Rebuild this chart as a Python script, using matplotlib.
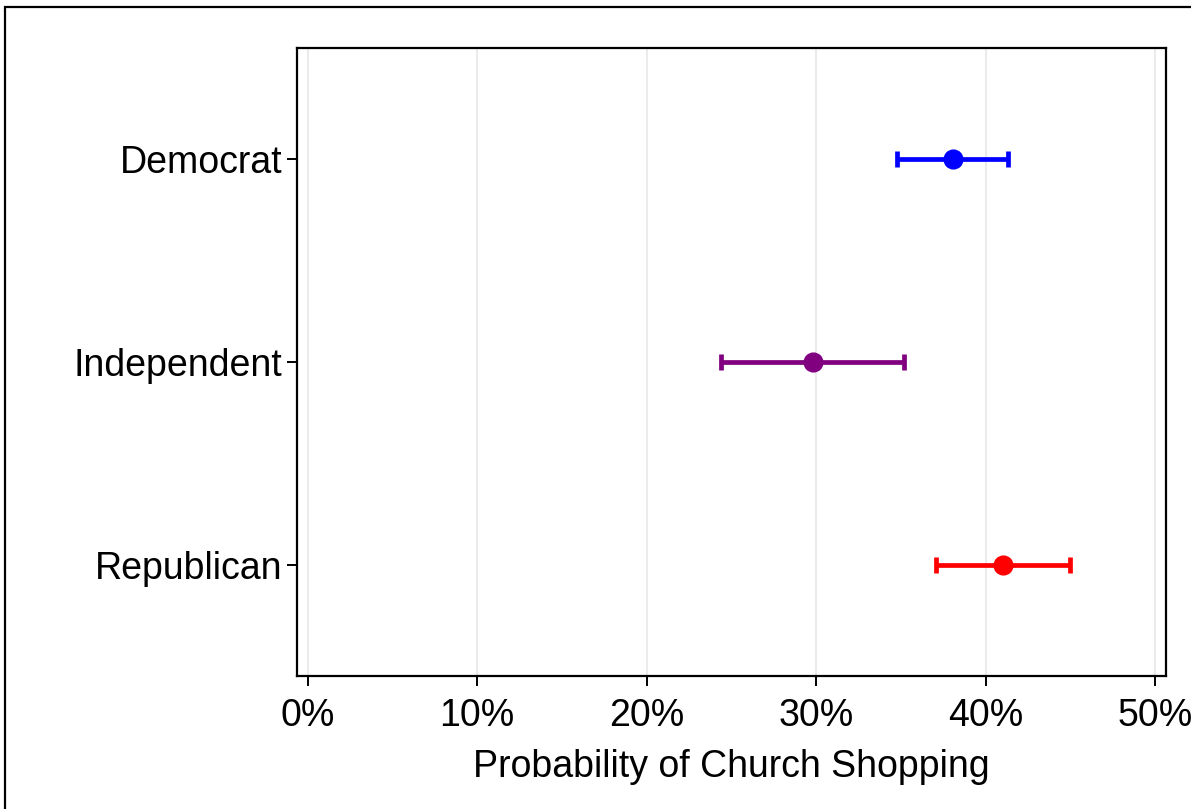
import numpy as np
import matplotlib
matplotlib.use("Agg")
import matplotlib.pyplot as plt
from matplotlib.patches import Rectangle
from matplotlib.ticker import PercentFormatter

# Predicted probability with confidence bounds, by party
parties = ["Democrat", "Independent", "Republican"]
estimate = [0.3806, 0.2984, 0.4104]
lower = [0.348, 0.244, 0.371]
upper = [0.4134, 0.3519, 0.4498]
colors = ["#0000ff", "#800080", "#ff0000"]

plt.rcParams["font.family"] = ["Liberation Sans", "DejaVu Sans"]

fig = plt.figure(figsize=(11.91, 8.09), dpi=100)
ax = fig.add_axes([0.2494, 0.1644, 0.9790 - 0.2494, 0.9407 - 0.1644])

# outer frame of the graph region (runs off the right and bottom edge)
fig.patches.append(Rectangle((5 / 1191, -0.2), 1.3, 1.2 - 9 / 809 + 0.002,
                             transform=fig.transFigure, fill=False,
                             edgecolor="black", linewidth=1.6))

ypos = np.arange(len(parties))[::-1] + 1
for y, est, lo, hi, c in zip(ypos, estimate, lower, upper, colors):
    ax.errorbar(est, y, xerr=[[est - lo], [hi - est]], fmt="o", color=c,
                ecolor=c, elinewidth=3.4, capsize=5.5, capthick=3.4,
                markersize=13.5)

ax.set_yticks(ypos)
ax.set_yticklabels(parties)
ax.set_ylim(0.45, 3.55)

ax.set_xlim(-0.00625, 0.5065)
ax.set_xticks(np.arange(0, 0.51, 0.1))
ax.xaxis.set_major_formatter(PercentFormatter(xmax=1, decimals=0))
ax.grid(True, axis="x", color="#ebebeb", linewidth=1.5)
ax.set_axisbelow(True)

for s in ax.spines.values():
    s.set_linewidth(1.6)
ax.tick_params(axis="both", labelsize=27, length=7.5, width=1.4)
ax.tick_params(axis="y", pad=3)
ax.tick_params(axis="x", pad=8)
ax.set_xlabel("Probability of Church Shopping", fontsize=27, labelpad=11)

fig.savefig("out.png", dpi=100)
